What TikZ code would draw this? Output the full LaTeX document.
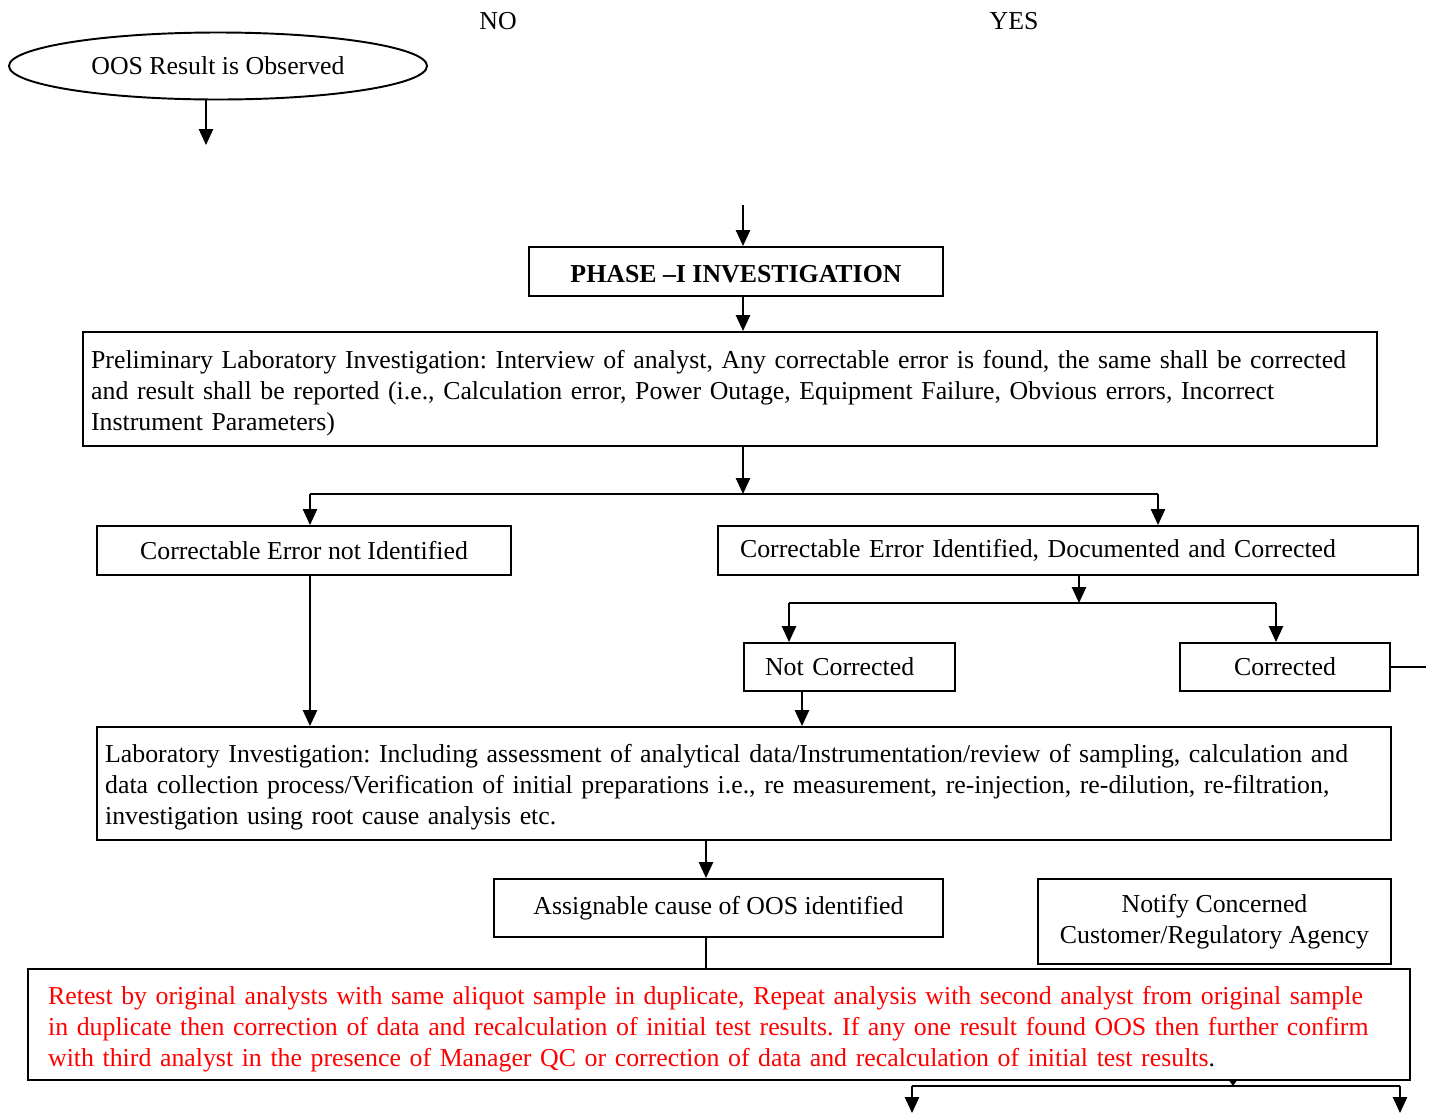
\documentclass[tikz,border=0pt]{standalone}
\usepackage{fontspec}
\setmainfont{Liberation Serif}
\usepackage{xcolor}
\usetikzlibrary{arrows.meta,shapes.geometric}
\tikzset{
    box/.style={rectangle, draw, line width=1.1pt, inner sep=0pt},
    boxsize/.style 2 args={minimum width=#1*0.02cm, minimum height=#2*0.02cm},
    textbox/.style={box, align=left, text width=#1, inner xsep=0.16cm, text height=15pt},
    arrow/.style={-{Triangle[width=8pt,length=9pt]}, line width=1.1pt},
    smallarrow/.style={-{Triangle[width=4pt,length=3pt]}, line width=1.1pt},
    link/.style={line width=1.1pt},
    startnode/.style={ellipse, draw, line width=1.1pt, inner sep=0pt}
}
\begin{document}
\begin{tikzpicture}[x=0.02cm, y=-0.02cm, font=\fontsize{14.7}{17.6}\selectfont\frenchspacing]
\useasboundingbox (0,0) rectangle (1433,1113);
% Start
\node[startnode, boxsize={418}{67}] (oos) at (218,66) {OOS Result is Observed};
\coordinate (oosend) at (206,145);
\draw[arrow] (oos.south -| oosend) -- (oosend);
\node (no) at (498,21) {NO};
\node (yes) at (1014,21) {YES};

% Phase I
\node[box, boxsize={414}{49}, text height=12.5pt, font=\fontsize{14.7}{17.6}\selectfont\bfseries] (phase) at (736,271.5) {PHASE --I INVESTIGATION};
\coordinate (phin) at (743,205);
\draw[arrow] (phin) -- (phin |- phase.north);

% Preliminary investigation
\node[textbox=25.56cm, boxsize={1294}{114}] (prelim) at (730,389) {Preliminary Laboratory Investigation: Interview of analyst, Any correctable error is found, the same shall be corrected\\and result shall be reported (i.e., Calculation error, Power Outage, Equipment Failure, Obvious errors, Incorrect\\Instrument Parameters)};
\draw[arrow] (phin |- phase.south) -- (phin |- prelim.north);

% Correctable error branch
\node[box, boxsize={414}{49}] (notid) at (304,550.5) {Correctable Error not Identified};
\node[box, boxsize={700}{49}, align=left, text width=13.12cm, inner xsep=0.44cm] (isid) at (1068,550.5) {Correctable Error Identified, Documented and Corrected};
\coordinate (split1) at (743,494);
\coordinate (split1l) at (310,494);
\coordinate (split1r) at (1158,494);
\draw[arrow] (phin |- prelim.south) -- (split1);
\draw[link] (split1l) -- (split1r);
\draw[arrow] (split1l) -- (split1l |- notid.north);
\draw[arrow] (split1r) -- (split1r |- isid.north);

% Corrected / not corrected
\node[box, boxsize={211}{48}, align=left, text width=3.38cm, inner xsep=0.42cm] (notcorr) at (849.5,667) {Not Corrected};
\node[box, boxsize={210}{48}] (corr) at (1285,667) {Corrected};
\coordinate (split2) at (1079,603);
\coordinate (split2l) at (789,603);
\coordinate (split2r) at (1276,603);
\draw[arrow] (split2 |- isid.south) -- (split2);
\draw[link] (split2l) -- (split2r);
\draw[arrow] (split2l) -- (split2l |- notcorr.north);
\draw[arrow] (split2r) -- (split2r |- corr.north);
\coordinate (corrend) at (1426,667);
\draw[link] (corr.east) -- (corrend);

% Laboratory investigation
\node[textbox=25.56cm, boxsize={1294}{113}] (lab) at (744,783.5) {Laboratory Investigation: Including assessment of analytical data/Instrumentation/review of sampling, calculation and\\data collection process/Verification of initial preparations i.e., re measurement, re-injection, re-dilution, re-filtration,\\investigation using root cause analysis etc.};
\coordinate (labl) at (310,0);
\coordinate (labr) at (802,0);
\draw[arrow] (labl |- notid.south) -- (labl |- lab.north);
\draw[arrow] (labr |- notcorr.south) -- (labr |- lab.north);

% Assignable cause
\node[box, boxsize={449}{58}] (assign) at (718.5,908) {Assignable cause of OOS identified};
\node[box, boxsize={353}{85}, align=center] (notify) at (1214.5,921.5) {Notify Concerned\\Customer/Regulatory Agency};
\coordinate (assx) at (706,0);
\draw[arrow] (assx |- lab.south) -- (assx |- assign.north);

% Retest
\node[textbox=26.84cm, boxsize={1382}{111}, inner xsep=0.4cm, text height=16pt] (retest) at (719,1024.5) {\color{red}Retest by original analysts with same aliquot sample in duplicate, Repeat analysis with second analyst from original sample\\\color{red}in duplicate then correction of data and recalculation of initial test results. If any one result found OOS then further confirm\\\color{red}with third analyst in the presence of Manager QC or correction of data and recalculation of initial test results\color{black}.};
\draw[link] (assx |- assign.south) -- (assx |- retest.north);
\coordinate (split3) at (1233,1086);
\coordinate (split3l) at (912,1086);
\coordinate (split3r) at (1400,1086);
\coordinate (endl) at (912,1113);
\coordinate (endr) at (1400,1113);
\draw[smallarrow] (split3 |- retest.south) -- (split3);
\draw[link] (split3l) -- (split3r);
\draw[arrow] (split3l) -- (endl);
\draw[arrow] (split3r) -- (endr);
\end{tikzpicture}
\end{document}
